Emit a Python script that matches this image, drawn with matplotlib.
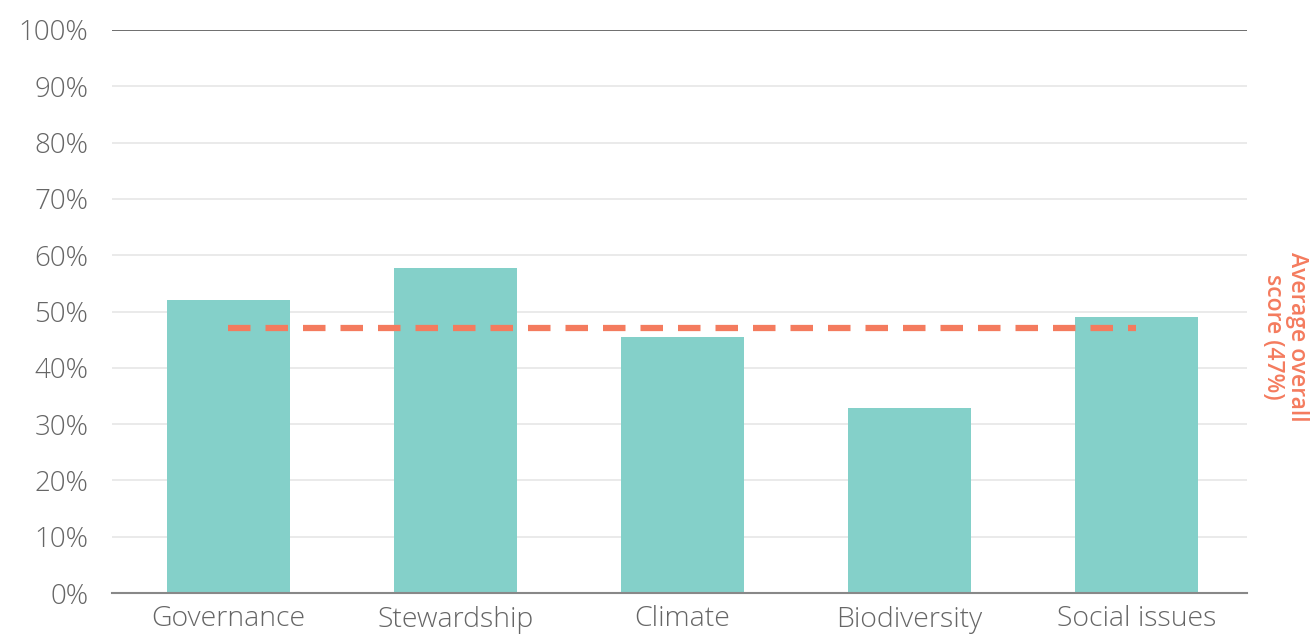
import matplotlib.pyplot as plt
import numpy as np

# data
categories = ["Governance", "Stewardship", "Climate", "Biodiversity", "Social issues"]
scores = [52.0, 57.7, 45.5, 32.9, 49.0]
average = 47
y_ticks = list(range(0, 101, 10))

bar_color = "#84D0C9"
avg_color = "#F47B5E"
text_color = "#666666"

plt.rcParams['font.family'] = ['Open Sans', 'DejaVu Sans']

fig = plt.figure(figsize=(13.14, 6.43), dpi=100)
ax = fig.add_axes([112 / 1314, 1 - 593 / 643, 1135 / 1314, 563 / 643])

x = np.arange(len(categories))
ax.bar(x, scores, width=0.54, color=bar_color, zorder=2)
ax.plot([x[0], x[-1]], [average, average], color=avg_color, lw=4.5,
        linestyle=(0, (3.6, 2.4)), zorder=3)

ax.set_xlim(-0.513, len(categories) - 0.513)
ax.set_ylim(0, 100)
ax.set_yticks(y_ticks)
ax.set_yticklabels([f"{v}%" for v in y_ticks], fontsize=20, color=text_color,
                   fontweight='light')
ax.set_xticks(x)
ax.set_xticklabels(categories, fontsize=20.5, color=text_color, fontweight='light')
ax.tick_params(axis='both', length=0)
ax.tick_params(axis='y', pad=17)
ax.tick_params(axis='x', pad=9)

# gridlines
for v in y_ticks[1:-1]:
    ax.axhline(v, color="#e6e6e6", lw=1.2, zorder=1)
ax.axhline(100, color="#555555", lw=1.2, zorder=1)

for side in ['top', 'right', 'left']:
    ax.spines[side].set_visible(False)
ax.spines['bottom'].set_color("#888888")
ax.spines['bottom'].set_linewidth(1.5)

fig.text(1285 / 1314, 1 - 337 / 643, "Average overall\nscore (47%)", rotation=-90,
         ha='center', va='center', fontsize=16.5, color=avg_color, fontweight='semibold',
         linespacing=0.95)

fig.savefig("out.png", dpi=100)
